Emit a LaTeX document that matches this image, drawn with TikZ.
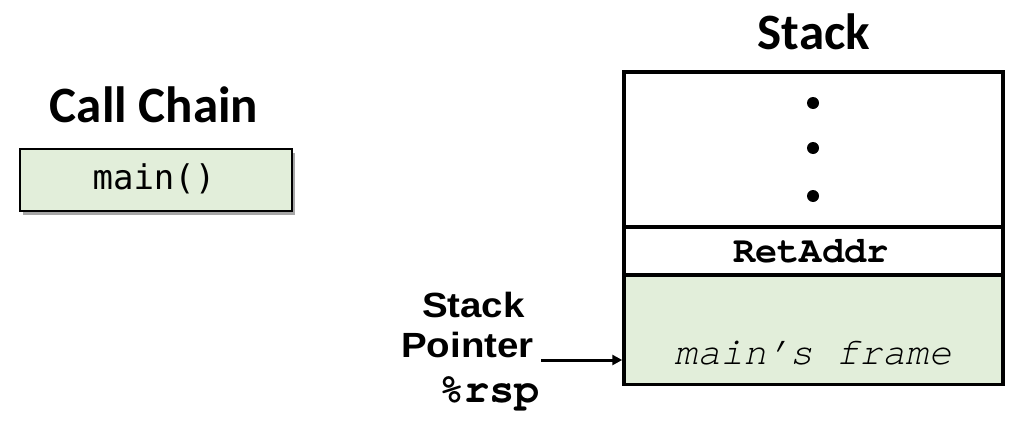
\documentclass[tikz,border=0pt]{standalone}
\usepackage{fontspec}
\setmainfont{Carlito}
\newfontfamily\arialfont[FakeStretch=1.1]{Liberation Sans}
\newfontfamily\courfont{texgyrecursor}[Extension=.otf, UprightFont=*-regular, BoldFont=*-bold, ItalicFont=*-italic, BoldItalicFont=*-bolditalic]
\newfontfamily\consfont{DejaVu Sans Mono}
\usetikzlibrary{shadows,arrows.meta}
\definecolor{framegreen}{RGB}{226,238,218}
\tikzset{
  titletext/.style={font=\fontsize{51}{60}\selectfont\bfseries, anchor=base, inner sep=0pt},
  sptext/.style={font=\arialfont\fontsize{35}{42}\selectfont\bfseries, anchor=base east, inner sep=0pt},
  codetext/.style={font=\courfont\fontsize{37}{44}\selectfont\bfseries, anchor=base, inner sep=0pt},
  cell/.style={draw=black, line width=3.5pt, minimum width=379pt, inner sep=0pt},
  dotmark/.style={circle, fill=black, inner sep=0pt, minimum size=12pt},
  chainbox/.style={draw=black, line width=2pt, fill=framegreen, minimum width=272pt, minimum height=62pt, inner sep=0pt,
    drop shadow={shadow xshift=3pt, shadow yshift=-4pt, fill=black, opacity=0.35}},
  ptrarrow/.style={line width=3pt, -{Triangle[length=10pt,width=10pt]}}
}
\begin{document}
\begin{tikzpicture}[x=1pt,y=-1pt]
\useasboundingbox (0,0) rectangle (1022,436);
% Call chain
\node[titletext] (cctitle) at (154,122) {Call Chain};
\node[chainbox] (mainbox) at (156,180) {};
\node[font=\consfont\fontsize{34}{40}\selectfont, anchor=base, inner sep=0pt] (maintxt) at (154,189) {main()};
% Stack
\node[titletext] (sttitle) at (814,50) {Stack};
\node[cell, fill=white, minimum height=155pt] (dotscell) at (813.5,149.5) {};
\node[cell, fill=white, minimum height=48pt] (retcell) at (813.5,251) {};
\node[cell, fill=framegreen, minimum height=109.5pt] (framecell) at (813.5,329.75) {};
\node[dotmark] (d1) at (813,103) {};
\node[dotmark] (d2) at (813,148) {};
\node[dotmark] (d3) at (813,196) {};
\node[codetext] (rettxt) at (811,262) {RetAddr};
\node[font=\courfont\fontsize{38.5}{46}\selectfont\itshape, anchor=base, inner sep=0pt] (frametxt) at (813,364) {main’s frame};
% Stack pointer
\node[sptext] (sp1) at (525,317) {Stack};
\node[sptext] (sp2) at (534,357) {Pointer};
\node[codetext, font=\courfont\fontsize{42}{48}\selectfont\bfseries, anchor=base east] (sp3) at (540,402) {\%rsp};
\coordinate (arrstart) at (541,360);
\draw[ptrarrow] (arrstart) -- (arrstart -| framecell.west);
\end{tikzpicture}
\end{document}
